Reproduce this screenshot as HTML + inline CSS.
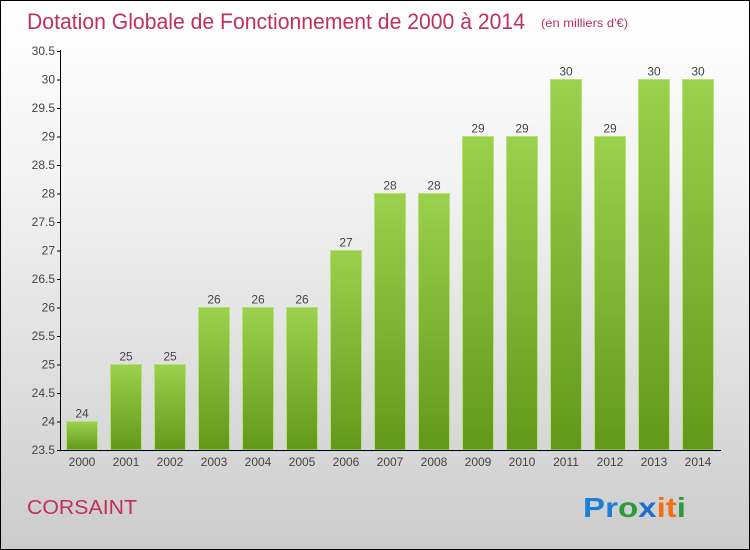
<!DOCTYPE html>
<html><head><meta charset="utf-8"><style>
body{margin:0}
#c{width:750px;height:550px;position:relative;box-sizing:border-box;border:1px solid #000;background:linear-gradient(#ffffff,#f4f4f4 30%,#d8d8d8 80%,#cccccc);font-family:"Liberation Sans",sans-serif;overflow:hidden}
</style></head><body>
<div id="c">
<svg width="750" height="550" style="position:absolute;left:-1px;top:-1px">
<defs><linearGradient id="g" x1="0" y1="0" x2="0" y2="1"><stop offset="0" stop-color="#9bd14c"/><stop offset="1" stop-color="#62991a"/></linearGradient></defs>
<text x="27" y="29" font-size="22" fill="#c0305a" textLength="498" lengthAdjust="spacingAndGlyphs">Dotation Globale de Fonctionnement de 2000 à 2014</text>
<text x="541" y="27" font-size="12" fill="#c0305a" textLength="87" lengthAdjust="spacingAndGlyphs">(en milliers d'€)</text>
<g id="bars"></g>
<text x="27" y="514" font-size="20" fill="#c0305a" textLength="110" lengthAdjust="spacingAndGlyphs">CORSAINT</text>
<text x="583" y="517" font-size="28" font-weight="bold" textLength="103" lengthAdjust="spacingAndGlyphs"><tspan fill="#1a7fd6">Pr</tspan><tspan fill="#2a9a3a">o</tspan><tspan fill="#1a6fd0">x</tspan><tspan fill="#f07010">i</tspan><tspan fill="#f07010">t</tspan><tspan fill="#2a9a3a">i</tspan></text>
</svg>
</div>
<script>
const years=["2000","2001","2002","2003","2004","2005","2006","2007","2008","2009","2010","2011","2012","2013","2014"];
const values=[24,25,25,26,26,26,27,28,28,29,29,30,29,30,30];
const yTicks=[23.5,24,24.5,25,25.5,26,26.5,27,27.5,28,28.5,29,29.5,30,30.5];
const NS="http://www.w3.org/2000/svg";
const g=document.getElementById('bars');
const y=v=>450-(v-23.5)*57;
const x=i=>82+i*44;
function mk(t,a,txt){const e=document.createElementNS(NS,t);for(const k in a)e.setAttribute(k,a[k]);if(txt!=null)e.textContent=txt;g.appendChild(e);return e;}
values.forEach((v,i)=>{
 const r=mk('rect',{x:x(i)-15.5,y:y(v),width:31,height:450-y(v),fill:'url(#g)',stroke:'#b5e07a','stroke-width':1});
 
 
 const l=mk('text',{x:x(i),y:y(v)-4,'text-anchor':'middle','font-size':12,fill:'#444'},String(v));
 
 
 const t=mk('text',{x:x(i),y:466,'text-anchor':'middle','font-size':12,fill:'#444'},years[i]);
 
 
});
const ax=mk('path',{d:'M60.5 50V450.5H721',stroke:'#000',fill:'none'});


yTicks.forEach(v=>{
 const tk=mk('line',{x1:57,x2:61,y1:y(v)+0.5,y2:y(v)+0.5,stroke:'#000'});
 
 
 const t=mk('text',{x:55,y:y(v)+4,'text-anchor':'end','font-size':12,fill:'#444'},String(v));
 
 
});
</script>
</body></html>
